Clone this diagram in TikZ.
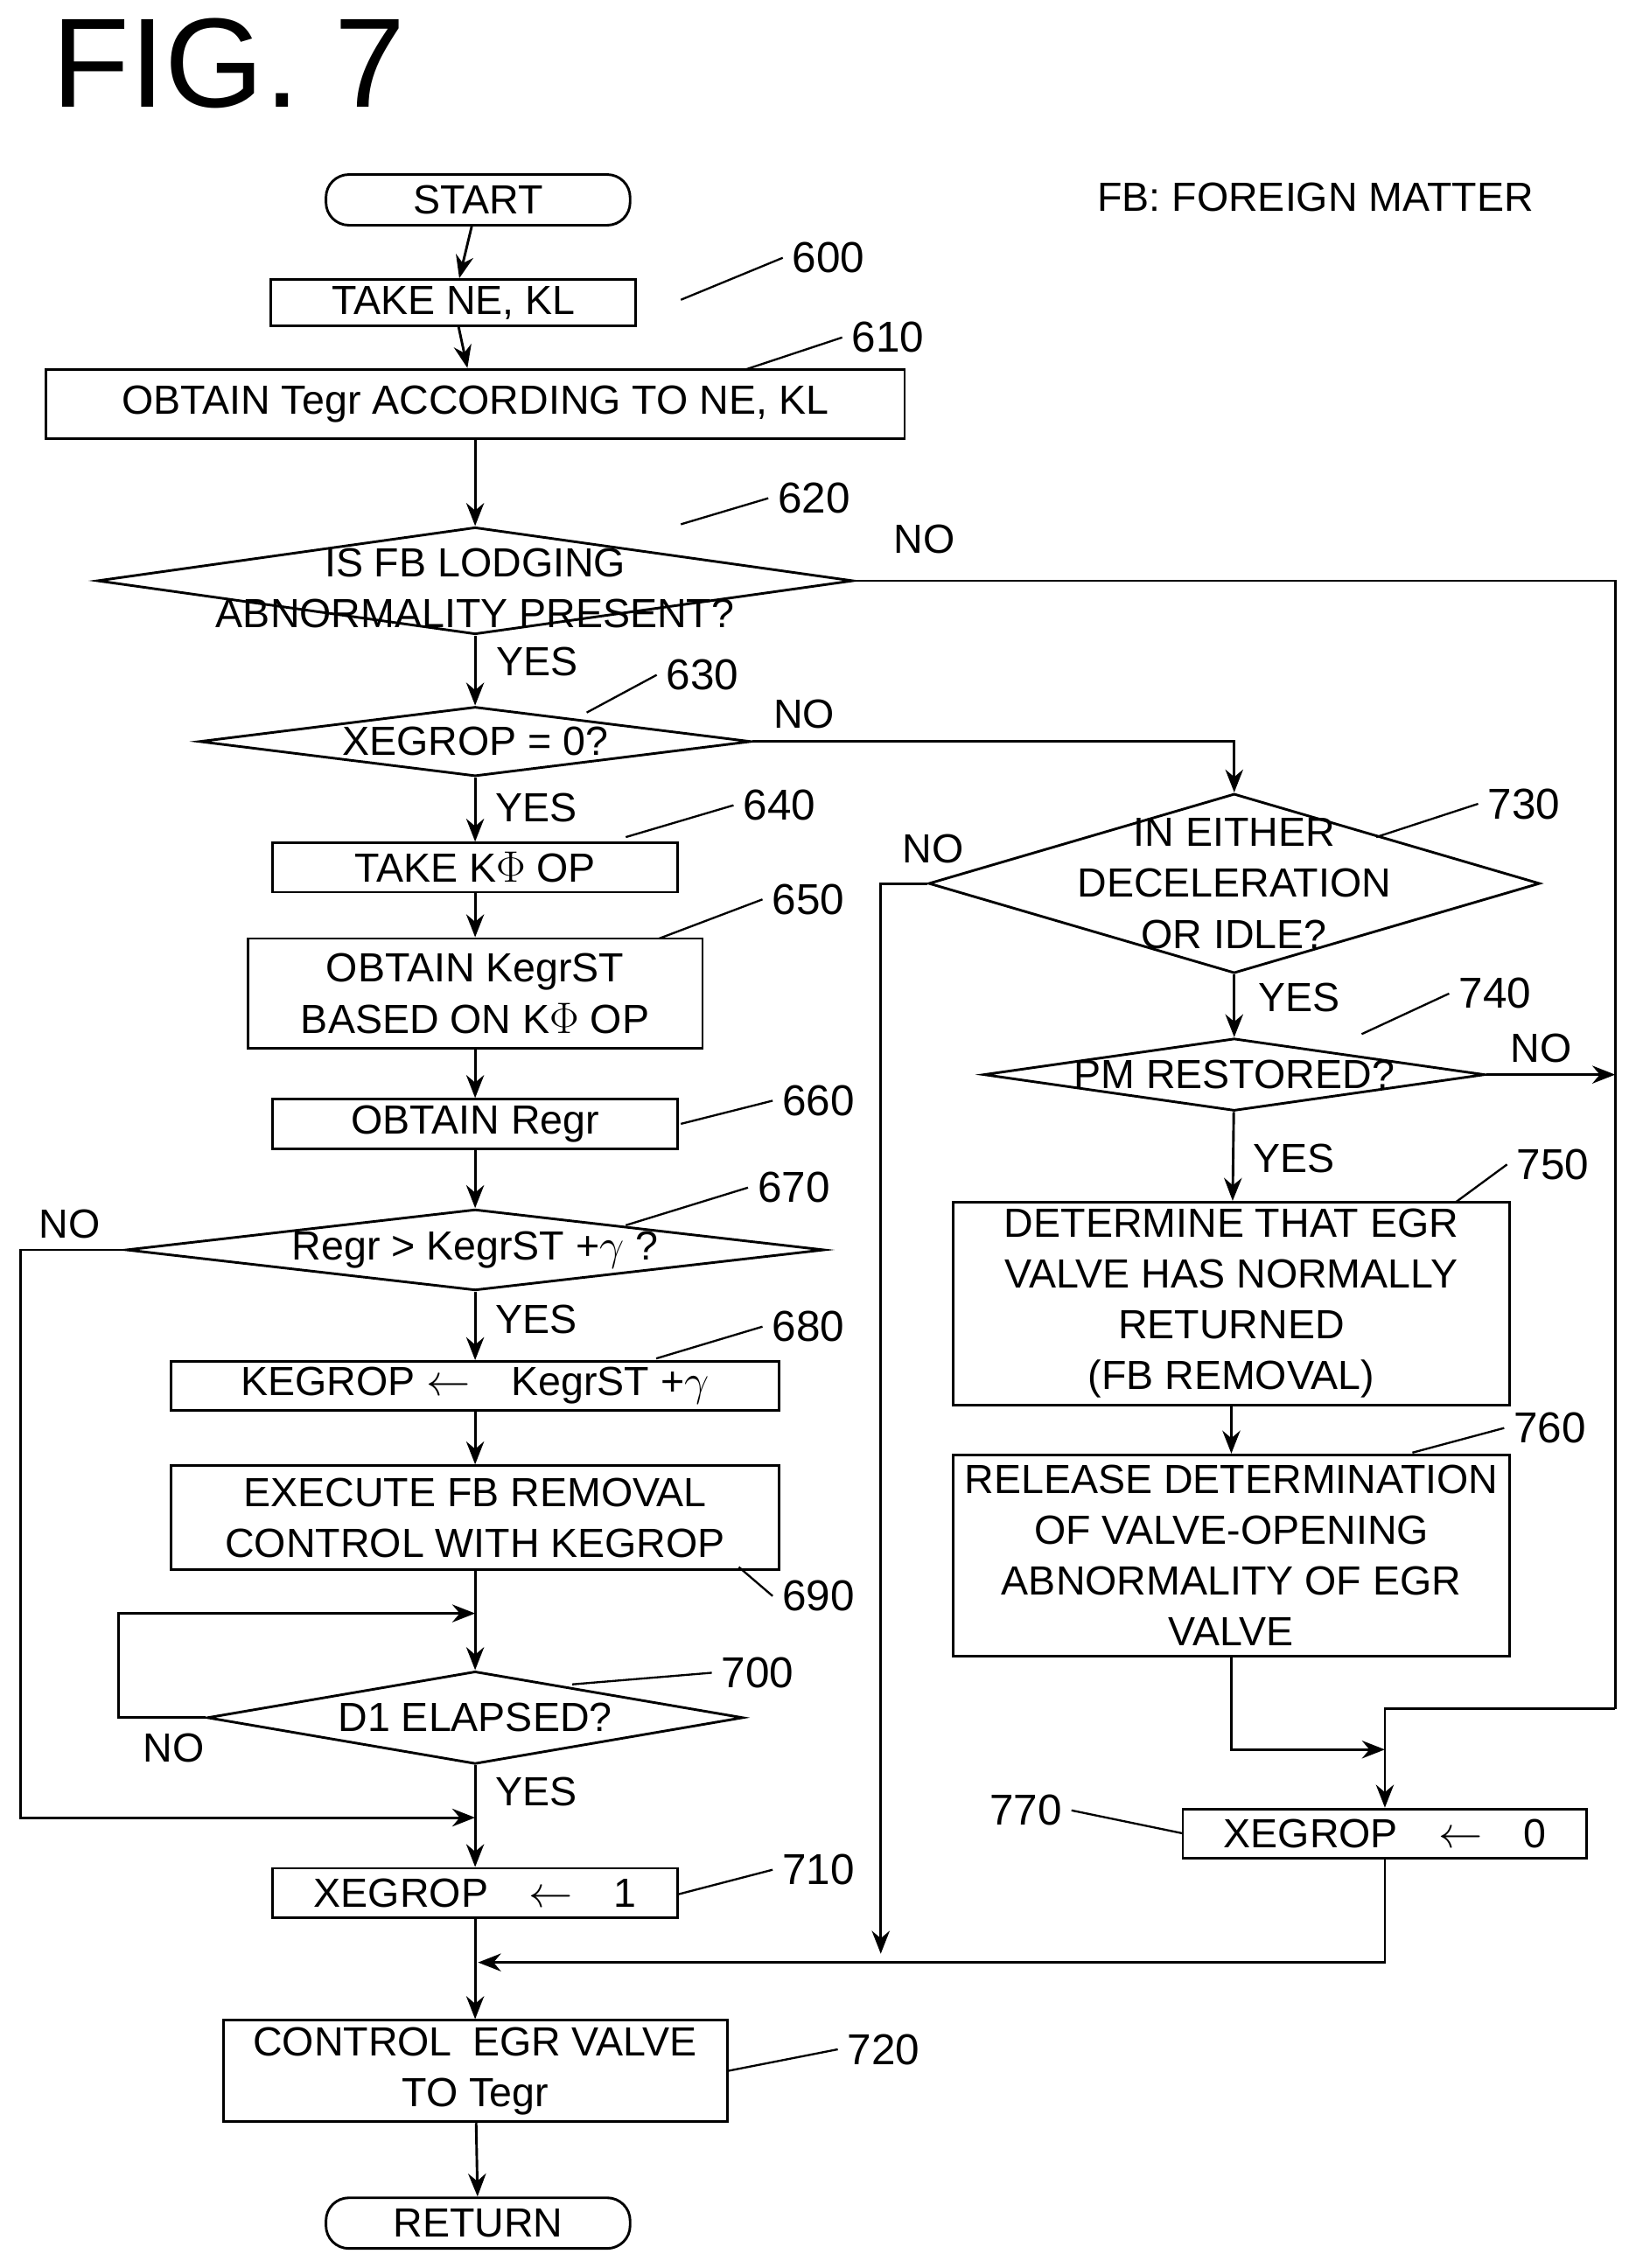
\documentclass[tikz,border=0pt]{standalone}
\usepackage{fontspec}
\setmainfont{Liberation Sans}
\usetikzlibrary{shapes.geometric,arrows.meta}

\begin{document}
\begin{tikzpicture}[x=0.02cm,y=-0.02cm,line width=1pt,
    >={Stealth[length=9pt,width=7pt]},
    every node/.style={font=\fontsize{16}{20}\selectfont},
    box/.style={draw,rectangle,inner sep=0pt,align=center},
    term/.style={draw,rectangle,rounded corners=9pt,inner sep=0pt,minimum width=4.2cm,minimum height=0.7cm},
    dec/.style={draw,diamond,inner sep=0pt},
    num/.style={font=\fontsize{17}{20}\selectfont},
    lead/.style={line width=0.8pt}]
\useasboundingbox (0,0) rectangle (1134,1566);

\node[font=\fontsize{50}{56}\selectfont] (title) at (158,44) {FIG. 7};
\node (legend) at (908,136) {FB: FOREIGN MATTER};

% left column
\node[term] (start) at (330,138) {START};
\node[box,minimum width=5.04cm,minimum height=0.64cm] (n600) at (313,209) {TAKE NE, KL};
\node[box,minimum width=11.86cm,minimum height=0.96cm] (n610) at (328,279) {OBTAIN Tegr ACCORDING TO NE, KL};
\node[dec,minimum width=10.44cm,minimum height=1.48cm,label={[align=center,yshift=-3pt]center:IS FB LODGING\\ABNORMALITY PRESENT?}] (n620) at (328,401) {};
\node[dec,minimum width=7.62cm,minimum height=0.96cm,label={center:XEGROP = 0?}] (n630) at (328,512) {};
\node[box,minimum width=5.6cm,minimum height=0.68cm] (n640) at (328,599) {TAKE K$\Phi$ OP};
\node[box,minimum width=6.28cm,minimum height=1.52cm] (n650) at (328,686) {OBTAIN KegrST\\BASED ON K$\Phi$ OP};
\node[box,minimum width=5.6cm,minimum height=0.68cm] (n660) at (328,776) {OBTAIN Regr};
\node[dec,minimum width=9.64cm,minimum height=1.12cm,label={center:Regr > KegrST +$\gamma$ ?}] (n670) at (328,863) {};
\node[box,minimum width=8.4cm,minimum height=0.68cm] (n680) at (328,957) {KEGROP $\leftarrow$\quad KegrST +$\gamma$};
\node[box,minimum width=8.4cm,minimum height=1.44cm] (n690) at (328,1048) {EXECUTE FB REMOVAL\\CONTROL WITH KEGROP};
\node[dec,minimum width=7.4cm,minimum height=1.28cm,label={center:D1 ELAPSED?}] (n700) at (328,1186) {};
\node[box,minimum width=5.6cm,minimum height=0.68cm] (n710) at (328,1307) {XEGROP\quad$\leftarrow$\quad1};
\node[box,minimum width=6.96cm,minimum height=1.4cm] (n720) at (328,1430) {CONTROL\enspace EGR VALVE\\TO Tegr};
\node[term] (return) at (330,1535) {RETURN};

% right column
\node[dec,minimum width=8.44cm,minimum height=2.48cm,label={[align=center]center:IN EITHER\\DECELERATION\\OR IDLE?}] (n730) at (852,610) {};
\node[dec,minimum width=6.92cm,minimum height=1.0cm,label={center:PM RESTORED?}] (n740) at (852,742) {};
\node[box,minimum width=7.68cm,minimum height=2.8cm] (n750) at (850,900) {DETERMINE THAT EGR\\VALVE HAS NORMALLY\\RETURNED\\(FB REMOVAL)};
\node[box,minimum width=7.68cm,minimum height=2.78cm] (n760) at (850,1074) {RELEASE DETERMINATION\\OF VALVE-OPENING\\ABNORMALITY OF EGR\\VALVE};
\node[box,minimum width=5.58cm,minimum height=0.68cm] (n770) at (956,1266) {XEGROP\quad$\leftarrow$\quad0};

% corner points
\coordinate (c1) at (1115,1180);
\coordinate (m1) at (956,1208);
\coordinate (k1) at (14,1255);
\coordinate (j1) at (328,1255);
\coordinate (k2) at (82,1114);
\coordinate (j4) at (328,1114);
\coordinate (j2) at (330,1355);
\coordinate (j3) at (608,1349);

% connectors
\draw[->] (start) -- (n600);
\draw[->] (n600) -- (n610);
\draw[->] (n610) -- (n620);
\draw[->] (n620) -- (n630);
\draw[->] (n630) -- (n640);
\draw[->] (n640) -- (n650);
\draw[->] (n650) -- (n660);
\draw[->] (n660) -- (n670);
\draw[->] (n670) -- (n680);
\draw[->] (n680) -- (n690);
\draw[->] (n690) -- (n700);
\draw[->] (n700) -- (n710);
\draw[->] (n710) -- (n720);
\draw[->] (n720) -- (return);
\draw (n620.east) -| (c1);
\draw[->] (c1) -| (n770.north);
\draw[->] (n630.east) -| (n730.north);
\draw[->] (n730) -- (n740);
\draw[->] (n740) -- (n750);
\draw[->] (n750) -- (n760);
\draw[->] (n760.south) |- (m1);
\draw[->] (n740.east) -- (n740.east -| c1);
\draw[->] (n670.west) -| (k1) -- (j1);
\draw[->] (n700.west) -| (k2) -- (j4);
\draw[->] (n770.south) |- (j2);
\draw[->] (n730.west) -| (j3);

% branch labels
\node (no620) at (638,372) {NO};
\node (yes620) at (371,457) {YES};
\node (no630) at (555,493) {NO};
\node (yes630) at (370,558) {YES};
\node (no670) at (48,845) {NO};
\node (yes670) at (370,911) {YES};
\node (no700) at (120,1207) {NO};
\node (yes700) at (370,1237) {YES};
\node (no730) at (644,586) {NO};
\node (yes730) at (897,689) {YES};
\node (no740) at (1064,724) {NO};
\node (yes740) at (893,800) {YES};

% step numbers
\node[num] (l600) at (572,178) {600};
\node[num] (l610) at (613,233) {610};
\node[num] (l620) at (562,344) {620};
\node[num] (l630) at (485,466) {630};
\node[num] (l640) at (538,556) {640};
\node[num] (l650) at (558,621) {650};
\node[num] (l660) at (565,760) {660};
\node[num] (l670) at (548,820) {670};
\node[num] (l680) at (558,916) {680};
\node[num] (l690) at (565,1102) {690};
\node[num] (l700) at (523,1155) {700};
\node[num] (l710) at (565,1291) {710};
\node[num] (l720) at (610,1415) {720};
\node[num] (l730) at (1052,555) {730};
\node[num] (l740) at (1032,686) {740};
\node[num] (l750) at (1072,804) {750};
\node[num] (l760) at (1070,986) {760};
\node[num] (l770) at (708,1250) {770};
\draw[lead] (470,207) -- (l600.west);
\draw[lead] (515,255) -- (l610.west);
\draw[lead] (470,362) -- (l620.west);
\draw[lead] (405,492) -- (l630.west);
\draw[lead] (432,578) -- (l640.west);
\draw[lead] (455,648) -- (l650.west);
\draw[lead] (470,776) -- (l660.west);
\draw[lead] (432,846) -- (l670.west);
\draw[lead] (453,938) -- (l680.west);
\draw[lead] (510,1082) -- (l690.west);
\draw[lead] (395,1163) -- (l700.west);
\draw[lead] (468,1308) -- (l710.west);
\draw[lead] (502,1430) -- (l720.west);
\draw[lead] (950,578) -- (l730.west);
\draw[lead] (940,714) -- (l740.west);
\draw[lead] (1005,830) -- (l750.west);
\draw[lead] (975,1003) -- (l760.west);
\draw[lead] (l770.east) -- (817,1266);
\end{tikzpicture}
\end{document}
